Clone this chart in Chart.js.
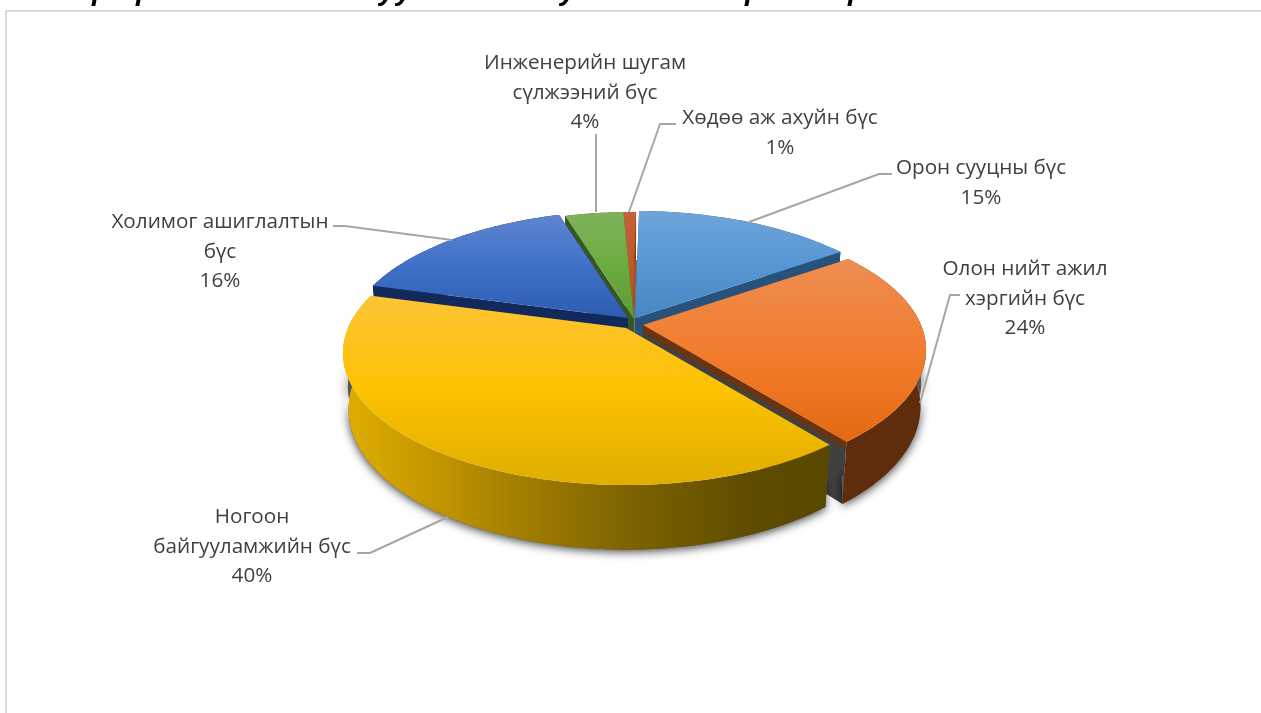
<!DOCTYPE html>
<html lang="mn">
<head>
<meta charset="utf-8">
<style>
  html, body { margin: 0; padding: 0; background: #fff; overflow: hidden; }
  #stage { position: relative; width: 1261px; height: 713px; }
  #frame { position: absolute; left: 5px; top: 10px; right: -4px; bottom: -4px; border: 2px solid #d9d9d9; }
  canvas { position: absolute; left: 0; top: 0; }
</style>
<script src="https://cdn.jsdelivr.net/npm/chart.js@4"></script>
</head>
<body>
<div id="stage">
  <div id="frame"></div>
  <canvas id="zones" width="1261" height="713"></canvas>
</div>
<script>
// Land-use zones and their shares, in percent.
const categories = [
  'Орон сууцны бүс',
  'Олон нийт ажил хэргийн бүс',
  'Ногоон байгууламжийн бүс',
  'Холимог ашиглалтын бүс',
  'Инженерийн шугам сүлжээний бүс',
  'Хөдөө аж ахуйн бүс'
];
const shares = [15, 24, 40, 16, 4, 1];

// Wrapped label lines per zone; the percentage is appended from `shares`.
const labelLines = [
  ['Орон сууцны бүс'],
  ['Олон нийт ажил', 'хэргийн бүс'],
  ['Ногоон', 'байгууламжийн бүс'],
  ['Холимог ашиглалтын', 'бүс'],
  ['Инженерийн шугам', 'сүлжээний бүс'],
  ['Хөдөө аж ахуйн бүс']
];

// Centre x and first-line y of every label block.
const labelAnchors = [[981, 168], [1025, 269], [252, 517], [220, 222], [585, 63], [780, 118]];

// Leader polylines from the label to the slice rim.
const leaders = [
  [[892, 174], [879, 174], [749, 222]],
  [[960, 295], [950, 295], [920, 403]],
  [[357, 553], [370, 553], [448, 517]],
  [[333, 226], [345, 226], [452, 240]],
  [[596, 134], [596, 212]],
  [[676, 124], [660, 124], [629, 212]]
];

// Exploded position of each slice's tip on the page.
const tips = [[635, 318], [643, 325], [626, 328], [628, 318], [634, 319], [632, 319]];

// Top-surface gradients (far to near edge).
const topStops = [
  ['#6fa4da', '#5797d4', '#4786c3'],
  ['#ee8d53', '#f27d2e', '#e56912'],
  ['#fdc436', '#fdc200', '#dfae00'],
  ['#5f85cf', '#3f70c8', '#2e5cb2'],
  ['#7fb25c', '#6bab40', '#5c9b36'],
  ['#c4603a', '#c2562a', '#b84e20']
];
// Colours of the cut faces and the rim.
const endWallColors = ['#26527c', '#404040', '#7a5f00', '#12295c', '#375623', '#a9490f'];
const startWallColors = ['#26527c', '#7a3d10', '#7a5f00', '#12295c', '#375623', '#1f3864'];
const rimColors = ['#26527c', '#5f2d0c', '#7a5f00', '#12295c', '#375623', '#7a3d10'];

// Fragments of the heading that sits above the frame.
const headingGlyphs = ['р', 'р', 'у', 'у', 'у', 'р', 'р'];
const headingX = [92, 136, 379, 396, 560, 745, 848];

// Projection of the unit disc onto the page: a tilted circle seen in perspective.
const TILT = 0.189, HALF_W = 278, HALF_H = 127.3, DEPTH = 55, BASE_SCALE = 0.98;
const DEG = Math.PI / 180;

function project(tip, t, r, atBase) {
  const x = r * Math.sin(t), y = -r * Math.cos(t), w = 1 - TILT * y;
  const s = atBase ? BASE_SCALE : 1;
  return [
    tip[0] + s * HALF_W * x / w,
    tip[1] + s * HALF_H * y / w + (atBase ? DEPTH / w : 0)
  ];
}

function tracePolygon(ctx, pts) {
  ctx.beginPath();
  pts.forEach((p, i) => i ? ctx.lineTo(p[0], p[1]) : ctx.moveTo(p[0], p[1]));
  ctx.closePath();
}

function arcPoints(tip, a0, a1, atBase) {
  const n = Math.max(2, Math.ceil(Math.abs(a1 - a0) * 60)), pts = [];
  for (let i = 0; i <= n; i++) pts.push(project(tip, a0 + (a1 - a0) * i / n, 1, atBase));
  return pts;
}

function radialWall(ctx, tip, t, color) {
  const rim = project(tip, t, 1, false), rimLow = project(tip, t, 1, true);
  const hub = project(tip, t, 0, false), hubLow = project(tip, t, 0, true);
  tracePolygon(ctx, [hub, rim, rimLow, hubLow]);
  ctx.fillStyle = color;
  ctx.fill();
}

// Soft contact shadow, cast only by the near-facing part of the rim so it stays off the top face.
function rimShadow(ctx, tip, a0, a1) {
  const from = Math.max(a0, 85 * DEG), to = Math.min(a1, 268 * DEG);
  const upper = arcPoints(tip, from, to, false).map(p => [p[0] + (p[0] < tip[0] ? 5 : -5), p[1] + 34]);
  tracePolygon(ctx, upper.concat(arcPoints(tip, to, from, true)));
  ctx.save();
  ctx.shadowColor = 'rgba(0,0,0,0.75)';
  ctx.shadowBlur = 10;
  ctx.shadowOffsetY = 2;
  ctx.fillStyle = '#555555';
  ctx.fill();
  ctx.restore();
}

function outerWall(ctx, tip, a0, a1, fill) {
  tracePolygon(ctx, arcPoints(tip, a0, a1, false).concat(arcPoints(tip, a1, a0, true)));
  ctx.fillStyle = fill;
  ctx.fill();
}

function topSurface(ctx, tip, a0, a1, stops) {
  const pts = [project(tip, 0, 0, false)].concat(arcPoints(tip, a0, a1, false));
  const ys = pts.map(p => p[1]);
  const g = ctx.createLinearGradient(0, Math.min(...ys), 0, Math.max(...ys));
  stops.forEach((c, i) => g.addColorStop(i / (stops.length - 1), c));
  tracePolygon(ctx, pts);
  ctx.fillStyle = g;
  ctx.fill();
}

// Slices are painted back to front so nearer ones cover the walls behind them.
const paintOrder = [5, 4, 0, 3, 1, 2];

const pie3d = {
  id: 'pie3d',
  // The flat arcs are replaced by the projected ones below.
  beforeDatasetDraw() { return false; },
  afterDatasetsDraw(chart) {
    const ctx = chart.ctx;
    const arcs = chart.getDatasetMeta(0).data;
    const angle = a => a + Math.PI / 2;

    ctx.save();

    // Narrow shaded gap along the start of the first slice.
    const first = tips[0];
    ctx.fillStyle = '#777777';
    ctx.fillRect(first[0] - 3, first[1] - 58, 5, 74);

    paintOrder.forEach(i => {
      const a0 = angle(arcs[i].startAngle), a1 = angle(arcs[i].endAngle), tip = tips[i];
      radialWall(ctx, tip, a0, startWallColors[i]);
      radialWall(ctx, tip, a1, endWallColors[i]);
      if (i === 1 || i === 2) rimShadow(ctx, tip, a0, a1);

      let rimFill = rimColors[i];
      if (i === 2) {
        const g = ctx.createLinearGradient(345, 0, 825, 0);
        g.addColorStop(0, '#dfad00');
        g.addColorStop(0.18, '#c49700');
        g.addColorStop(0.38, '#a07c00');
        g.addColorStop(0.58, '#7f6400');
        g.addColorStop(0.84, '#5f4c00');
        g.addColorStop(1, '#594800');
        rimFill = g;
      }
      outerWall(ctx, tip, a0, a1, rimFill);

      // Thin lit lip under the cut edge of the orange slice.
      if (i === 1) {
        const rim = project(tip, a1, 1, false), hub = project(tip, a1, 0, false);
        tracePolygon(ctx, [hub, rim, [rim[0] - 1, rim[1] + 7], [hub[0] - 1, hub[1] + 7]]);
        ctx.fillStyle = '#6a3410';
        ctx.fill();
      }
      topSurface(ctx, tip, a0, a1, topStops[i]);
    });

    // Leader lines.
    ctx.strokeStyle = '#a6a6a6';
    ctx.lineWidth = 2;
    ctx.lineJoin = 'round';
    leaders.forEach(line => {
      ctx.beginPath();
      line.forEach((p, i) => i ? ctx.lineTo(p[0], p[1]) : ctx.moveTo(p[0], p[1]));
      ctx.stroke();
    });

    // Data labels.
    ctx.fillStyle = '#404040';
    ctx.font = '20.7px "Open Sans"';
    ctx.textAlign = 'center';
    ctx.textBaseline = 'middle';
    labelLines.forEach((lines, i) => {
      const [cx, y0] = labelAnchors[i];
      lines.concat(shares[i] + '%').forEach((text, k) => ctx.fillText(text, cx, y0 + k * 29.7));
    });

    // Heading fragments clipped by the top of the page.
    ctx.fillStyle = '#000000';
    ctx.font = 'italic bold 29px "Liberation Sans"';
    ctx.textAlign = 'left';
    ctx.textBaseline = 'alphabetic';
    headingGlyphs.forEach((g, i) => ctx.fillText(g, headingX[i], 0));

    ctx.restore();
  }
};

new Chart(document.getElementById('zones'), {
  type: 'pie',
  data: {
    labels: categories,
    datasets: [{ data: shares, borderWidth: 0 }]
  },
  options: {
    responsive: false,
    animation: false,
    rotation: 1,
    plugins: { legend: { display: false }, tooltip: { enabled: false } }
  },
  plugins: [pie3d]
});
</script>
</body>
</html>
